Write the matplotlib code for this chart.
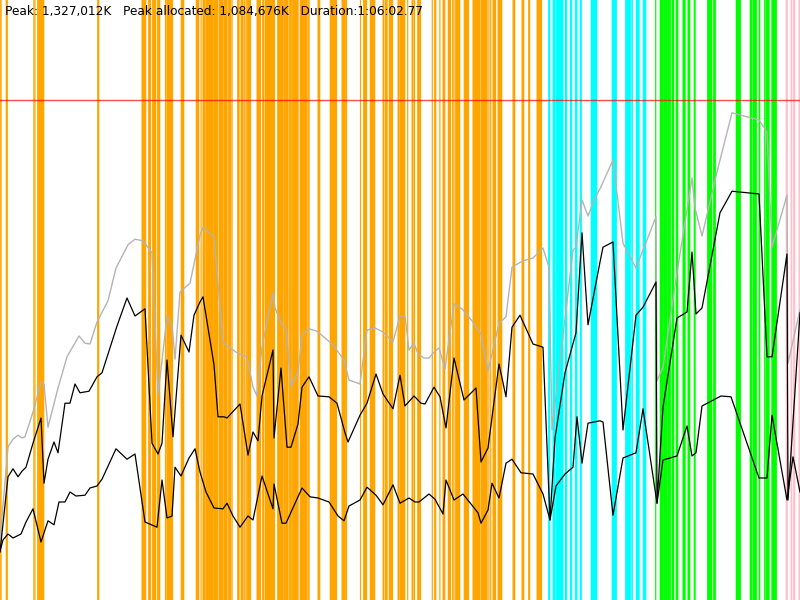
import matplotlib
matplotlib.use("Agg")
import matplotlib.pyplot as plt

# run length in seconds, memory in MB
DURATION = 4000
MEM_MAX = 1500
LIMIT = 1250

# gc pauses as (start, end) seconds
minor_gc = [
    (2, 7), (30, 38), (168, 171), (173, 176), (187, 220), (487, 495),
    (709, 730), (742, 754), (762, 780), (787, 800), (826, 829), (833, 864),
    (905, 920), (980, 995), (1004, 1007), (1014, 1027), (1030, 1064),
    (1067, 1089), (1094, 1117), (1120, 1137), (1142, 1155), (1159, 1162),
    (1187, 1197), (1204, 1217), (1222, 1225), (1230, 1233), (1237, 1254),
    (1284, 1304), (1312, 1320), (1325, 1374), (1387, 1417), (1420, 1428),
    (1431, 1442), (1447, 1458), (1462, 1492), (1500, 1537), (1542, 1547),
    (1589, 1600), (1650, 1684), (1709, 1724), (1727, 1734), (1801, 1804),
    (1817, 1834), (1850, 1875), (1914, 1920), (1925, 1937), (1945, 1964),
    (1989, 1997), (2000, 2025), (2037, 2040), (2059, 2067), (2071, 2074),
    (2087, 2104), (2160, 2163), (2172, 2180), (2198, 2201), (2214, 2225),
    (2240, 2254), (2262, 2265), (2268, 2271), (2277, 2300), (2320, 2344),
    (2364, 2400), (2404, 2437), (2443, 2446), (2452, 2455), (2464, 2479),
    (2489, 2510), (2564, 2575), (2609, 2620), (2642, 2650), (2684, 2709),
]
concurrent_gc = [
    (2742, 2750), (2764, 2775), (2779, 2816), (2826, 2835), (2851, 2860),
    (2876, 2886), (2900, 2908), (2955, 2985), (3060, 3083), (3127, 3153),
    (3158, 3163), (3180, 3197), (3215, 3230),
]
full_gc = [
    (3277, 3280), (3300, 3318), (3321, 3337), (3340, 3353), (3359, 3370),
    (3380, 3390), (3414, 3427), (3439, 3450), (3470, 3477), (3537, 3560),
    (3567, 3578), (3680, 3703), (3750, 3760), (3764, 3783), (3794, 3800),
    (3822, 3825), (3829, 3847), (3858, 3883),
]
other_gc = [(3930, 3938), (3954, 3960), (3967, 3975), (3994, 4000)]

heap_t = [0, 40, 65, 90, 110, 125, 165, 205, 220, 240, 290, 335, 395, 425, 450,
          485, 540, 580, 640, 675, 715, 760, 790, 835, 860, 875, 900, 950, 1000,
          1015, 1070, 1115, 1135, 1195, 1235, 1265, 1285, 1310, 1365, 1375, 1410,
          1430, 1455, 1490, 1510, 1545, 1585, 1665, 1720, 1745, 1800, 1835, 1875,
          1915, 1965, 2000, 2025, 2045, 2070, 2090, 2120, 2145, 2175, 2195, 2225,
          2270, 2310, 2360, 2405, 2440, 2495, 2530, 2560, 2615, 2665, 2715, 2745,
          2760, 2865, 2880, 2910, 2940, 2975, 3000, 3065, 3115, 3180, 3280, 3285,
          3315, 3385, 3460, 3475, 3510, 3585, 3660, 3795, 3835, 3860, 3935, 3940,
          4000]
heap_mb = [150, 383, 402, 412, 405, 408, 470, 545, 540, 432, 530, 608, 660, 642, 640,
           695, 748, 830, 888, 902, 898, 868, 512, 708, 688, 602, 770, 792, 912,
           932, 908, 645, 635, 615, 608, 532, 510, 632, 768, 730, 688,
           678, 535, 568, 662, 678, 672, 638, 600, 550, 540, 675, 680,
           670, 645, 710, 710, 625, 642, 615, 605, 605, 622, 630, 578,
           740, 728, 698, 665, 572, 692, 708, 832, 848, 855, 880, 832,
           425, 875, 882, 1000, 960, 1005, 1028, 1100, 892, 830, 958, 548,
           582, 818, 1055, 980, 910, 1070, 1218, 1200, 1170, 882, 1012, 592,
           725]

before_t = [0, 40, 65, 90, 110, 130, 165, 205, 220, 240, 270, 290, 325, 350, 375,
            400, 445, 485, 510, 585, 635, 675, 725, 760, 790, 810, 835, 865, 905,
            945, 970, 1000, 1015, 1070, 1090, 1120, 1135, 1200, 1240, 1265, 1290,
            1310, 1365, 1370, 1405, 1435, 1455, 1490, 1510, 1545, 1590, 1645, 1685,
            1725, 1740, 1800, 1835, 1880, 1915, 1965, 2000, 2025, 2070, 2105, 2125,
            2170, 2200, 2230, 2270, 2320, 2380, 2405, 2440, 2495, 2530, 2560, 2600,
            2665, 2715, 2750, 2775, 2825, 2880, 2910, 2940, 3000, 3015, 3065, 3115,
            3180, 3215, 3280, 3285, 3315, 3385, 3435, 3460, 3480, 3510, 3600, 3660,
            3795, 3835, 3860, 3935, 3940, 4000]
before_mb = [120, 308, 328, 308, 322, 332, 392, 455, 292, 352, 395, 368, 492, 492, 540,
             518, 522, 558, 568, 685, 755, 710, 728, 392, 365, 392, 600, 408, 662,
             620, 712, 745, 758, 588, 458, 458, 455, 490, 362, 420, 398,
             510, 625, 405, 580, 382, 382, 440, 532, 558, 510, 508, 492,
             418, 395, 462, 492, 565, 515, 478, 562, 485, 510, 492, 490,
             532, 508, 430, 605, 500, 530, 345, 380, 590, 508, 682, 712,
             640, 632, 200, 405, 568, 668, 918, 688, 845, 882, 895, 425,
             712, 732, 795, 242, 482, 705, 720, 870, 715, 730, 968, 1022,
             1015, 608, 608, 865, 250, 718]

after_t = [0, 15, 40, 65, 105, 130, 165, 205, 240, 270, 295, 325, 350, 380, 425,
           450, 485, 510, 580, 635, 675, 725, 785, 810, 835, 860, 875, 905, 945,
           975, 1000, 1030, 1070, 1115, 1135, 1165, 1200, 1240, 1265, 1310, 1365,
           1370, 1410, 1430, 1460, 1510, 1550, 1590, 1645, 1690, 1720, 1745, 1800,
           1835, 1880, 1915, 1965, 2000, 2045, 2075, 2095, 2145, 2175, 2215, 2230,
           2270, 2315, 2390, 2405, 2440, 2460, 2495, 2530, 2560, 2605, 2665, 2715,
           2750, 2780, 2825, 2865, 2885, 2910, 2940, 3000, 3015, 3065, 3115, 3180,
           3215, 3285, 3315, 3385, 3435, 3460, 3480, 3510, 3605, 3655, 3795, 3835,
           3860, 3935, 3965, 4000]
after_mb = [122, 150, 165, 155, 165, 195, 228, 145, 198, 188, 245, 245, 270, 260, 262,
            280, 285, 302, 378, 352, 365, 195, 182, 300, 205, 210, 332, 310, 355,
            378, 320, 270, 230, 228, 242, 210, 182, 210, 200, 310, 228,
            290, 192, 192, 225, 280, 258, 255, 245, 210, 198, 235, 250,
            282, 262, 238, 288, 242, 255, 245, 245, 265, 252, 215, 300,
            250, 265, 218, 192, 225, 292, 255, 342, 352, 318, 315, 265,
            200, 285, 315, 332, 458, 342, 442, 448, 445, 212, 355, 368,
            478, 242, 350, 360, 435, 360, 368, 485, 510, 508, 305, 305,
            462, 250, 358, 270]

fig = plt.figure(figsize=(8, 6), dpi=100)
ax = fig.add_axes([0, 0, 1, 1])

pad = 1.5
for spans, color in [(minor_gc, "orange"), (concurrent_gc, "cyan"),
                     (full_gc, "lime"), (other_gc, "pink")]:
    for start, end in spans:
        ax.axvspan(start - pad, end + pad, color=color, lw=0, snap=False, zorder=1)

ax.axhline(LIMIT, color="red", lw=1, alpha=0.7, zorder=2)
ax.plot(heap_t, heap_mb, color="#b4b4b4", lw=1, zorder=3)
ax.plot(before_t, before_mb, color="black", lw=0.9, zorder=4)
ax.plot(after_t, after_mb, color="black", lw=0.9, zorder=4)

ax.set_xlim(0, DURATION)
ax.set_ylim(0, MEM_MAX)
ax.axis("off")

fig.text(5 / 800, 1 - 12 / 600,
         "Peak: 1,327,012K   Peak allocated: 1,084,676K   Duration:1:06:02.77",
         fontsize=8.7, family="DejaVu Sans", va="center", zorder=10)

fig.savefig("out.png", dpi=100, facecolor="white")
